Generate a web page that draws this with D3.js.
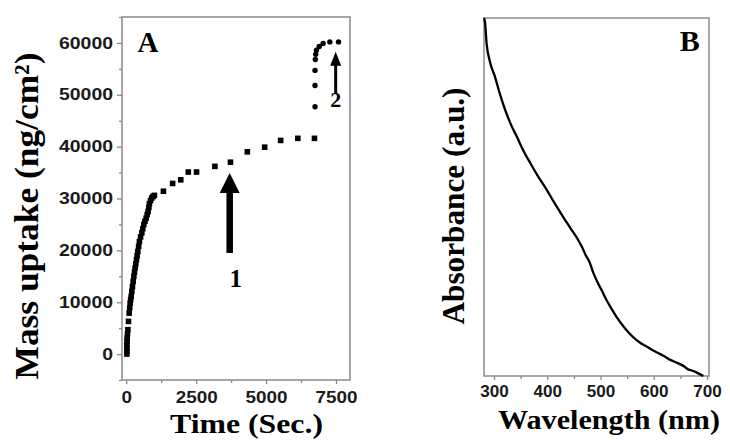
<!DOCTYPE html>
<html><head><meta charset="utf-8">
<script src="https://cdn.jsdelivr.net/npm/d3@7"></script>
<style>
html,body{margin:0;padding:0;background:#fff;}
svg{display:block;}
</style></head>
<body>
<script>
// ---------- Panel A data: mass uptake vs time ----------
const stepOneTime = [25,25,25,25,30,35,45,60,82,107,125,142,160,178,200,224,250,274,297,320,343,367,392,416,445,473,515,559,595,630,670,712,750,783,810,830,870,915,960,1008,1330,1660,1950,2220,2515,3170,3727,4330,4950,5520,6135,6730];
const stepOneMass = [0,600,1200,1800,2500,3100,3900,4700,6300,7900,8900,9800,10500,11100,12100,13000,14000,15000,15800,16600,17400,18200,19000,19800,20800,21700,22600,23400,24200,25000,25600,26200,26900,27500,28300,29000,29600,30100,30400,30600,31400,32900,33600,35100,35100,36200,37000,39000,39900,41200,41600,41600];
const stepTwoTime = [6750,6750,6750,6760,6775,6800,6900,7040,7280,7590];
const stepTwoMass = [47700,51800,54700,56800,57800,58600,59300,59900,60200,60200];
const xTicksA = [0,2500,5000,7500];
const yTicksA = [0,10000,20000,30000,40000,50000,60000];
const arrowLabels = ["1","2"];

// ---------- Panel B data: absorbance spectrum ----------
const wavelength = [281,283,286,292,302,311,321,331,343,355,368,383,399,414,430,444,458,466,472,480,486,493,502,512,521,530,545,561,575,588,599,610,620,631,645,658,664,670,680,693];
const absorbance = [1.0,0.99,0.93,0.88,0.835,0.788,0.743,0.705,0.668,0.63,0.595,0.557,0.52,0.482,0.444,0.412,0.38,0.358,0.338,0.316,0.29,0.266,0.24,0.21,0.187,0.165,0.135,0.109,0.092,0.081,0.071,0.063,0.055,0.045,0.036,0.026,0.019,0.016,0.01,0.0];
const xTicksB = [300,400,500,600,700];

const W = 730, H = 440;
const svg = d3.select("body").append("svg").attr("width", W).attr("height", H);

const frameColor = "#8a8a8a";
const sansFont = "'Liberation Sans', Arial, sans-serif";
const serifFont = "'Liberation Serif', 'Times New Roman', serif";

function styleAxis(g, charW) {
  g.select(".domain").remove();
  g.selectAll(".tick line").attr("stroke", frameColor).attr("stroke-width", 1.3);
  g.selectAll("text")
    .attr("fill", "#1a1a1a")
    .style("font-family", sansFont)
    .style("font-weight", "bold")
    .style("font-size", "16px")
    .attr("textLength", function(){ return this.textContent.length * charW; })
    .attr("lengthAdjust", "spacingAndGlyphs");
}

// ================= Panel A =================
const A = {l:122, r:350, t:17, b:380};
const xA = d3.scaleLinear().domain([-150, 8000]).range([A.l, A.r]);
const yA = d3.scaleLinear().domain([-5000, 65000]).range([A.b, A.t]);

// minor ticks
svg.append("g").attr("transform", `translate(0,${A.b})`)
  .call(d3.axisBottom(xA).tickValues(d3.range(1250, 8000, 2500)).tickSize(3).tickFormat(""))
  .call(g => styleAxis(g, 10.5));
svg.append("g").attr("transform", `translate(${A.l},0)`)
  .call(d3.axisLeft(yA).tickValues(d3.range(-5000, 65001, 10000)).tickSize(3).tickFormat(""))
  .call(g => styleAxis(g, 10.8));
// major ticks
const gxA = svg.append("g").attr("transform", `translate(0,${A.b})`)
  .call(d3.axisBottom(xA).tickValues(xTicksA).tickSize(4).tickFormat(d3.format("d")))
  .call(g => styleAxis(g, 10.5));
gxA.selectAll("text").attr("y", 23.3).attr("dy", 0);
svg.append("g").attr("transform", `translate(${A.l},0)`)
  .call(d3.axisLeft(yA).tickValues(yTicksA).tickSize(5).tickPadding(4).tickFormat(d3.format("d")))
  .call(g => styleAxis(g, 10.8));

svg.append("rect").attr("x", A.l).attr("y", A.t).attr("width", A.r - A.l).attr("height", A.b - A.t)
  .attr("fill", "none").attr("stroke", frameColor).attr("stroke-width", 1.5);

// squares
const sq = 5.6;
svg.append("g").selectAll("rect").data(d3.range(stepOneTime.length)).join("rect")
  .attr("x", i => xA(stepOneTime[i]) - sq/2)
  .attr("y", i => yA(stepOneMass[i]) - sq/2)
  .attr("width", sq).attr("height", sq).attr("fill", "#000");
// circles
svg.append("g").selectAll("circle").data(d3.range(stepTwoTime.length)).join("circle")
  .attr("cx", i => xA(stepTwoTime[i]))
  .attr("cy", i => yA(stepTwoMass[i]))
  .attr("r", 2.7).attr("fill", "#000");

// arrows
function arrow(xv, yTail, yTip, shaftW, headW, headH) {
  const x = xA(xv), y0 = yA(yTail), y1 = yA(yTip);
  svg.append("rect").attr("x", x - shaftW/2).attr("y", y1 + headH - 1).attr("width", shaftW)
    .attr("height", y0 - y1 - headH + 1).attr("fill", "#000");
  svg.append("path").attr("d", `M${x},${y1} L${x - headW/2},${y1 + headH} L${x + headW/2},${y1 + headH} Z`)
    .attr("fill", "#000");
}
arrow(3700, 19500, 34900, 6.5, 20, 20);
arrow(7488, 50200, 58300, 3, 11, 14);

svg.append("text").attr("x", xA(3914)).attr("y", yA(12900)).attr("text-anchor", "middle")
  .style("font-family", serifFont).style("font-weight", "bold").style("font-size", "25px").text(arrowLabels[0]);
svg.append("text").attr("x", xA(7488)).attr("y", yA(47700)).attr("text-anchor", "middle")
  .style("font-family", serifFont).style("font-weight", "bold").style("font-size", "22px").text(arrowLabels[1]);

svg.append("text").attr("x", 148).attr("y", 51.7).attr("text-anchor", "middle")
  .style("font-family", serifFont).style("font-weight", "bold").style("font-size", "29px").text("A");

svg.append("text").attr("x", 246.5).attr("y", 433).attr("text-anchor", "middle")
  .attr("textLength", 153).attr("lengthAdjust", "spacingAndGlyphs")
  .style("font-family", serifFont).style("font-weight", "bold").style("font-size", "27px").text("Time (Sec.)");

svg.append("text").attr("transform", "translate(38,216) rotate(-90)").attr("text-anchor", "middle")
  .attr("textLength", 327).attr("lengthAdjust", "spacingAndGlyphs")
  .style("font-family", serifFont).style("font-weight", "bold").style("font-size", "34px").text("Mass uptake (ng/cm²)");

// ================= Panel B =================
const B = {l:484, r:709, t:18, b:376};
const xB = d3.scaleLinear().domain([281.2, 703.7]).range([B.l, B.r]);
const yB = d3.scaleLinear().domain([0, 1]).range([B.b, B.t]);

svg.append("g").attr("transform", `translate(0,${B.b})`)
  .call(d3.axisBottom(xB).tickValues(d3.range(350, 700, 100)).tickSize(3).tickFormat(""))
  .call(g => styleAxis(g, 9.5));
const gxB = svg.append("g").attr("transform", `translate(0,${B.b})`)
  .call(d3.axisBottom(xB).tickValues(xTicksB).tickSize(4).tickFormat(d3.format("d")))
  .call(g => styleAxis(g, 9.5));
gxB.selectAll("text").attr("y", 20.7).attr("dy", 0);

svg.append("rect").attr("x", B.l).attr("y", B.t).attr("width", B.r - B.l).attr("height", B.b - B.t)
  .attr("fill", "none").attr("stroke", frameColor).attr("stroke-width", 1.5);

const line = d3.line().x(i => xB(wavelength[i])).y(i => yB(absorbance[i])).curve(d3.curveMonotoneX);
svg.append("path").attr("d", line(d3.range(wavelength.length)))
  .attr("fill", "none").attr("stroke", "#000").attr("stroke-width", 2.3);

svg.append("text").attr("x", 689.7).attr("y", 50.7).attr("text-anchor", "middle")
  .style("font-family", serifFont).style("font-weight", "bold").style("font-size", "30px").text("B");

svg.append("text").attr("x", 609).attr("y", 429).attr("text-anchor", "middle")
  .attr("textLength", 222).attr("lengthAdjust", "spacingAndGlyphs")
  .style("font-family", serifFont).style("font-weight", "bold").style("font-size", "28px").text("Wavelength (nm)");

svg.append("text").attr("transform", "translate(464,206) rotate(-90)").attr("text-anchor", "middle")
  .attr("textLength", 237).attr("lengthAdjust", "spacingAndGlyphs")
  .style("font-family", serifFont).style("font-weight", "bold").style("font-size", "31px").text("Absorbance (a.u.)");
</script>
</body></html>
